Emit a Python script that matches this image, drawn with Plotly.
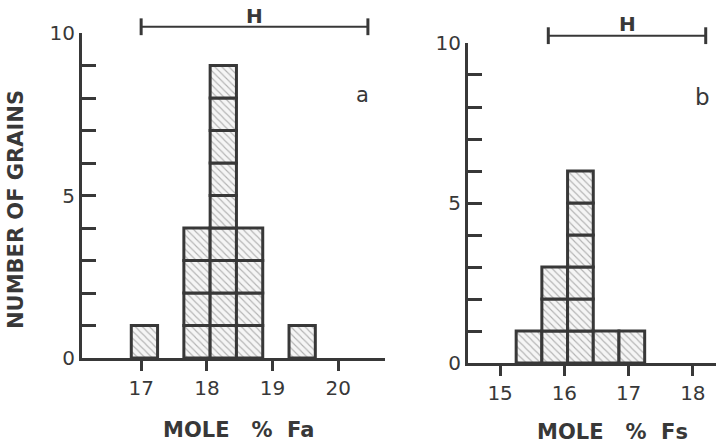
import plotly.graph_objects as go

# ---- data ----
bin_width = 0.4
centers_a = [17.05, 17.85, 18.25, 18.65, 19.45]
counts_a = [1, 4, 9, 4, 1]
centers_b = [15.45, 15.85, 16.25, 16.65, 17.05]
counts_b = [1, 3, 6, 1, 1]
h_range_a = [17.0, 20.45]
h_range_b = [15.75, 18.2]
xticks_a = [17, 18, 19, 20]
xticks_b = [15, 16, 17, 18]
yticks = list(range(11))
ytick_labels = ["0", "", "", "", "", "5", "", "", "", "", "10"]

INK = "#383838"
FONT = "DejaVu Sans"


def unit_boxes(centers, counts):
    xs, bases, ys = [], [], []
    for c, n in zip(centers, counts):
        for k in range(n):
            xs.append(c)
            bases.append(k)
            ys.append(1)
    return xs, bases, ys


fig = go.Figure()

for centers, counts, xa, ya in [(centers_a, counts_a, "x", "y"), (centers_b, counts_b, "x2", "y2")]:
    xs, bases, ys = unit_boxes(centers, counts)
    fig.add_trace(go.Bar(
        x=xs, y=ys, base=bases, width=bin_width, xaxis=xa, yaxis=ya,
        marker=dict(color="#f2f2f2",
                    line=dict(color=INK, width=3),
                    pattern=dict(shape="\\", size=5, solidity=0.22,
                                 fgcolor="#707070", bgcolor="#f5f5f5")),
        showlegend=False, hoverinfo="skip"))

for hr, xa, ya in [(h_range_a, "x3", "y3"), (h_range_b, "x4", "y4")]:
    fig.add_trace(go.Scatter(
        x=hr, y=[0.5, 0.5], xaxis=xa, yaxis=ya, mode="lines+markers",
        line=dict(color=INK, width=2),
        marker=dict(symbol="line-ns", size=12, line=dict(color=INK, width=3)),
        showlegend=False, hoverinfo="skip", cliponaxis=False))

tickfont = dict(family=FONT, size=20, color=INK)

common_x = dict(showline=True, linecolor=INK, linewidth=3, ticks="outside",
                ticklen=10, tickwidth=3, tickcolor=INK, showgrid=False,
                zeroline=False, tickfont=tickfont, fixedrange=True)
common_y = dict(showline=True, linecolor=INK, linewidth=3, ticks="inside",
                ticklen=14, tickwidth=3, tickcolor=INK, showgrid=False,
                zeroline=False, tickfont=tickfont, range=[0, 10],
                tickvals=yticks, ticktext=ytick_labels, fixedrange=True)


def label(text, px, py, size, bold=False, angle=0):
    font = dict(family=FONT, size=size, color=INK)
    if bold:
        font["weight"] = "bold"
    return dict(text=text, x=px / 716, y=1 - py / 446, xref="paper", yref="paper",
                xanchor="center", yanchor="middle", showarrow=False,
                textangle=angle, font=font)


fig.update_layout(
    width=716, height=446,
    margin=dict(l=0, r=0, t=0, b=0, autoexpand=False),
    paper_bgcolor="white", plot_bgcolor="white",
    barmode="overlay",
    xaxis=dict(domain=[0.1145, 0.5377], range=[16.10, 20.71], tickvals=xticks_a,
               anchor="y", **common_x),
    yaxis=dict(domain=[0.1973, 0.926], anchor="x", **common_y),
    xaxis2=dict(domain=[0.6536, 1.0], range=[14.50, 18.36], tickvals=xticks_b,
                anchor="y2", **common_x),
    yaxis2=dict(domain=[0.186, 0.9036], anchor="x2", **common_y),
    xaxis3=dict(domain=[0.1145, 0.5377], matches="x", visible=False, anchor="y3"),
    yaxis3=dict(domain=[0.90, 0.98], range=[0, 1], visible=False, anchor="x3"),
    xaxis4=dict(domain=[0.6536, 1.0], matches="x2", visible=False, anchor="y4"),
    yaxis4=dict(domain=[0.88, 0.96], range=[0, 1], visible=False, anchor="x4"),
    annotations=[
        dict(text="H", x=sum(h_range_a) / 2, y=0.5, xref="x3", yref="y3",
             xanchor="center", yanchor="middle",
             yshift=11, showarrow=False,
             font=dict(family=FONT, size=20, color=INK, weight="bold")),
        dict(text="H", x=sum(h_range_b) / 2, y=0.5, xref="x4", yref="y4",
             xanchor="center", yanchor="middle",
             yshift=12, showarrow=False,
             font=dict(family=FONT, size=20, color=INK, weight="bold")),
        label("a", 362, 95, 21),
        label("b", 702, 97, 23),
        label("MOLE   %  Fa", 238, 430, 21, bold=True),
        label("MOLE   %  Fs", 612, 432, 21, bold=True),
        label("NUMBER OF GRAINS", 16, 210, 21, bold=True, angle=-90),
    ],
)

fig.write_html("out.html", config={"displayModeBar": False},
               post_script="document.body.style.margin='0';")
